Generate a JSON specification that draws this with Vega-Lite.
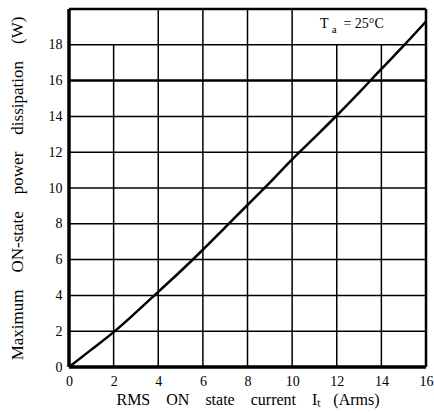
{
  "$schema": "https://vega.github.io/schema/vega-lite/v6.json",
  "autosize": "none",
  "width": 357,
  "height": 358,
  "padding": {"left": 69, "top": 9, "right": 8, "bottom": 46},
  "background": "white",
  "config": {
    "view": {"stroke": null},
    "font": "Liberation Serif",
    "axis": {"labelOverlap": false, "labelFlush": false, "labelBound": false}
  },
  "datasets": {
    "curve": [
      {"i": 0, "p": 0},
      {"i": 1, "p": 0.97},
      {"i": 2, "p": 1.95},
      {"i": 3, "p": 3.05},
      {"i": 4, "p": 4.2},
      {"i": 5, "p": 5.35},
      {"i": 6, "p": 6.55},
      {"i": 7, "p": 7.8},
      {"i": 8, "p": 9.05},
      {"i": 9, "p": 10.3},
      {"i": 10, "p": 11.6},
      {"i": 11, "p": 12.82},
      {"i": 12, "p": 14.05},
      {"i": 13, "p": 15.33},
      {"i": 14, "p": 16.65},
      {"i": 15, "p": 17.95},
      {"i": 16, "p": 19.3}
    ],
    "vgrid": [
      {"x": 2, "y1": 0, "y2": 18},
      {"x": 4, "y1": 0, "y2": 20},
      {"x": 6, "y1": 0, "y2": 20},
      {"x": 8, "y1": 0, "y2": 20},
      {"x": 10, "y1": 0, "y2": 20},
      {"x": 12, "y1": 0, "y2": 18},
      {"x": 14, "y1": 0, "y2": 18}
    ],
    "hgrid": [
      {"y": 2, "w": 1.5},
      {"y": 4, "w": 1.5},
      {"y": 6, "w": 1.5},
      {"y": 8, "w": 1.5},
      {"y": 10, "w": 1.5},
      {"y": 12, "w": 1.5},
      {"y": 14, "w": 1.5},
      {"y": 16, "w": 2.5},
      {"y": 18, "w": 1.5}
    ],
    "frame": [
      {"x": 0, "y": 0, "x2": 16, "y2": 0, "w": 3.5},
      {"x": 0, "y": 0, "x2": 0, "y2": 20, "w": 3.5},
      {"x": 0, "y": 20, "x2": 16, "y2": 20, "w": 2.5},
      {"x": 16, "y": 0, "x2": 16, "y2": 20, "w": 2.5}
    ]
  },
  "layer": [
    {
      "data": {"name": "hgrid"},
      "mark": {"type": "rule", "color": "black"},
      "encoding": {
        "y": {"field": "y", "type": "quantitative", "scale": {"domain": [0, 20], "nice": false},
          "axis": {"values": [0, 2, 4, 6, 8, 10, 12, 14, 16, 18], "tickCount": 20, "grid": false, "domain": false, "ticks": false,
            "labelOverlap": false, "labelFont": "Liberation Serif", "labelFontSize": 14, "labelColor": "black", "labelPadding": 7,
            "title": "Maximum\u00a0\u00a0\u00a0\u00a0ON-state\u00a0\u00a0\u00a0\u00a0power\u00a0\u00a0\u00a0\u00a0dissipation\u00a0\u00a0\u00a0\u00a0(W)",
            "titleFont": "Liberation Serif", "titleFontSize": 17, "titleLimit": 0,
            "titleFontWeight": "normal", "titleColor": "black", "titlePadding": 22}},
        "x": {"datum": 0, "type": "quantitative", "scale": {"domain": [0, 16], "nice": false},
          "axis": {"values": [0, 2, 4, 6, 8, 10, 12, 14, 16], "tickCount": 20, "grid": false, "domain": false, "ticks": false,
            "labelOverlap": false, "labelFont": "Liberation Serif", "labelFontSize": 14, "labelColor": "black", "labelPadding": 7,
            "title": "RMS\u00a0\u00a0\u00a0\u00a0ON\u00a0\u00a0\u00a0\u00a0state\u00a0\u00a0\u00a0\u00a0current\u00a0\u00a0\u00a0\u00a0I\u209c\u00a0\u00a0\u00a0(Arms)",
            "titleFont": "Liberation Serif", "titleFontSize": 16, "titleLimit": 0,
            "titleFontWeight": "normal", "titleColor": "black", "titlePadding": 3}},
        "x2": {"datum": 16},
        "strokeWidth": {"field": "w", "type": "quantitative", "scale": null}
      }
    },
    {
      "data": {"name": "vgrid"},
      "mark": {"type": "rule", "color": "black", "strokeWidth": 1.5},
      "encoding": {
        "x": {"field": "x", "type": "quantitative"},
        "y": {"field": "y1", "type": "quantitative"},
        "y2": {"field": "y2"}
      }
    },
    {
      "data": {"name": "frame"},
      "mark": {"type": "rule", "color": "black"},
      "encoding": {
        "x": {"field": "x", "type": "quantitative"},
        "y": {"field": "y", "type": "quantitative"},
        "x2": {"field": "x2"},
        "y2": {"field": "y2"},
        "strokeWidth": {"field": "w", "type": "quantitative", "scale": null}
      }
    },
    {
      "data": {"name": "curve"},
      "mark": {"type": "line", "color": "black", "strokeWidth": 2.5, "interpolate": "monotone"},
      "encoding": {
        "x": {"field": "i", "type": "quantitative"},
        "y": {"field": "p", "type": "quantitative"}
      }
    },
    {
      "data": {"values": [
        {"x": 11.25, "y": 19.15, "t": "T", "s": 14},
        {"x": 11.78, "y": 18.85, "t": "a", "s": 11},
        {"x": 12.3, "y": 19.15, "t": "=\u00a025\u00b0C", "s": 14}
      ]},
      "mark": {"type": "text", "align": "left", "baseline": "middle", "font": "Liberation Serif", "color": "black"},
      "encoding": {
        "x": {"field": "x", "type": "quantitative"},
        "y": {"field": "y", "type": "quantitative"},
        "text": {"field": "t"},
        "size": {"field": "s", "type": "quantitative", "scale": null}
      }
    }
  ]
}
